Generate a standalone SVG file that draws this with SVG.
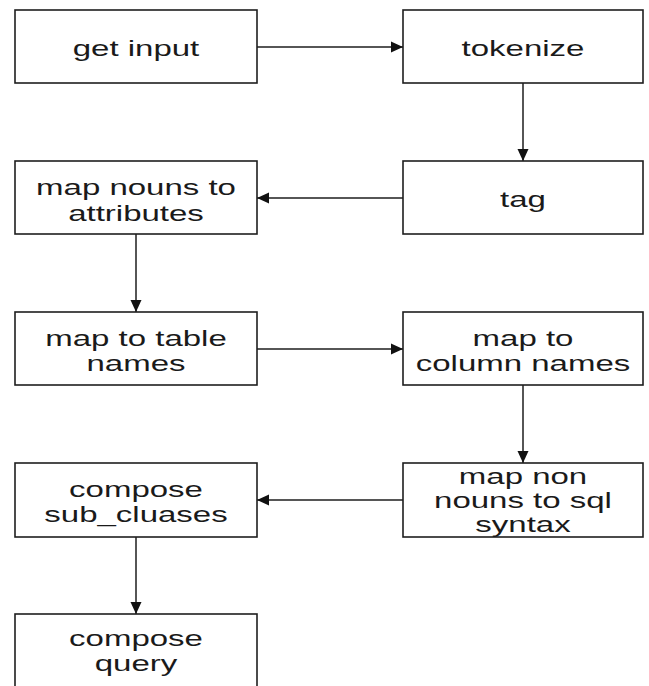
<svg xmlns="http://www.w3.org/2000/svg" width="649" height="686" viewBox="0 0 649 686">
<defs>
<style>
.box{fill:#fff;stroke:#1e1e1e;stroke-width:1.6}
.lbl{font-family:"Liberation Sans",Arial,Helvetica,sans-serif;font-size:22px;fill:#1a1a1a;text-anchor:middle}
.edge{stroke:#1e1e1e;stroke-width:1.5;fill:none;marker-end:url(#ah)}
</style>
<marker id="ah" viewBox="0 0 12 12" refX="12" refY="6" markerWidth="12" markerHeight="12" markerUnits="userSpaceOnUse" orient="auto">
<path d="M0,0.5 L12,6 L0,11.5 Z" fill="#111"/>
</marker>
</defs>
<rect width="649" height="686" fill="#fff"/>
<g id="connectors">
<line class="edge" x1="257" y1="47" x2="403" y2="47"/>
<line class="edge" x1="523" y1="83" x2="523" y2="161"/>
<line class="edge" x1="403" y1="198" x2="257" y2="198"/>
<line class="edge" x1="136" y1="234" x2="136" y2="312"/>
<line class="edge" x1="257" y1="349" x2="403" y2="349"/>
<line class="edge" x1="523" y1="385" x2="523" y2="463"/>
<line class="edge" x1="403" y1="500" x2="257" y2="500"/>
<line class="edge" x1="136" y1="537" x2="136" y2="614"/>
</g>
<g id="get_input">
<rect class="box" x="15" y="10" width="242" height="73"/>
<text class="lbl" transform="translate(136,56) scale(1.5,1)">get input</text>
</g>
<g id="tokenize">
<rect class="box" x="403" y="10" width="240" height="73"/>
<text class="lbl" transform="translate(523,56) scale(1.5,1)">tokenize</text>
</g>
<g id="tag">
<rect class="box" x="403" y="161" width="240" height="73"/>
<text class="lbl" transform="translate(523,207) scale(1.5,1)">tag</text>
</g>
<g id="map_nouns">
<rect class="box" x="15" y="161" width="242" height="73"/>
<text class="lbl" transform="translate(136,195) scale(1.5,1)">map nouns to</text>
<text class="lbl" transform="translate(136,221) scale(1.5,1)">attributes</text>
</g>
<g id="map_table">
<rect class="box" x="15" y="312" width="242" height="73"/>
<text class="lbl" transform="translate(136,346) scale(1.5,1)">map to table</text>
<text class="lbl" transform="translate(136,371) scale(1.5,1)">names</text>
</g>
<g id="map_column">
<rect class="box" x="403" y="312" width="240" height="73"/>
<text class="lbl" transform="translate(523,346) scale(1.5,1)">map to</text>
<text class="lbl" transform="translate(523,371) scale(1.5,1)">column names</text>
</g>
<g id="map_non_nouns">
<rect class="box" x="403" y="463" width="240" height="74"/>
<text class="lbl" transform="translate(523,484) scale(1.5,1)">map non</text>
<text class="lbl" transform="translate(523,508) scale(1.5,1)">nouns to sql</text>
<text class="lbl" transform="translate(523,532) scale(1.5,1)">syntax</text>
</g>
<g id="compose_sub">
<rect class="box" x="15" y="463" width="242" height="74"/>
<text class="lbl" transform="translate(136,497) scale(1.5,1)">compose</text>
<text class="lbl" transform="translate(136,522) scale(1.5,1)">sub_cluases</text>
</g>
<g id="compose_query">
<rect class="box" x="15" y="614" width="242" height="90"/>
<text class="lbl" transform="translate(136,646) scale(1.5,1)">compose</text>
<text class="lbl" transform="translate(136,671) scale(1.5,1)">query</text>
</g>
</svg>
